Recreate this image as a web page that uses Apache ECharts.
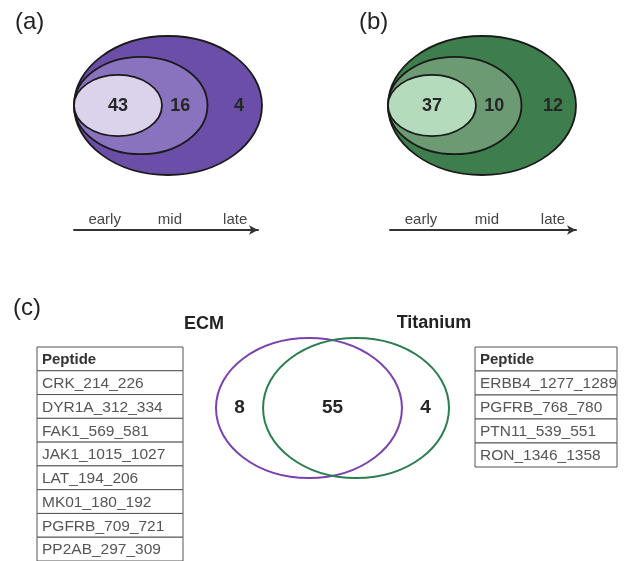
<!DOCTYPE html>
<html>
<head>
<meta charset="utf-8">
<script src="https://cdn.jsdelivr.net/npm/echarts@6/dist/echarts.min.js"></script>
<style>
  html, body { margin: 0; padding: 0; background: #fff; }
  #chart { width: 624px; height: 561px; }
</style>
</head>
<body>
<div id="chart"></div>
<script>
// Peptides first detected at each stage (nested sets: early ⊂ mid ⊂ late)
const stages = ['early', 'mid', 'late'];
const ecmStageCounts = [43, 16, 4];
const titaniumStageCounts = [37, 10, 12];

// Overlap between the two substrates: ECM only, both, Titanium only
const setNames = ['ECM', 'Titanium'];
const overlapCounts = [8, 55, 4];

const panelLabels = ['(a)', '(b)', '(c)'];
const tableHeader = 'Peptide';
const ecmOnlyPeptides = ['CRK_214_226', 'DYR1A_312_334', 'FAK1_569_581', 'JAK1_1015_1027',
  'LAT_194_206', 'MK01_180_192', 'PGFRB_709_721', 'PP2AB_297_309'];
const titaniumOnlyPeptides = ['ERBB4_1277_1289', 'PGFRB_768_780', 'PTN11_539_551', 'RON_1346_1358'];

// ---- styling / layout ----
const FONT = '"Liberation Sans", Arial, Helvetica, sans-serif';
const purpleFills = ['#dbd3ec', '#8a73be', '#6a4ea7'];
const greenFills = ['#b4dcbc', '#6b9a73', '#3e7e4c'];
const vennColors = ['#7b42ad', '#2c7d50'];
// nested ellipses share their left edge; sizes as fractions of the outer one
const ringWidth = [0.468, 0.71, 1.0];
const ringHeight = [0.44, 0.70, 1.0];
const ringLabelPos = [0.5, 0.4, 0.58];
// the two Venn ellipses as horizontal extents of the panel box
const vennExtents = [[0, 0.798], [0.202, 1]];
const ROW_H = 24;

function nestedRenderer(fills) {
  return function (params, api) {
    const i = api.value(0);
    const count = api.value(1);
    const w = ringWidth[i], h = ringHeight[i];
    const c = api.coord([w / 2, 0.5]);
    const s = api.size([w, h]);
    const prev = i > 0 ? ringWidth[i - 1] : 0;
    const lp = api.coord([prev + ringLabelPos[i] * (w - prev), 0.5]);
    return {
      type: 'group',
      children: [
        {
          type: 'ellipse',
          z2: 10 - 3 * i,
          shape: { cx: c[0], cy: c[1], rx: s[0] / 2, ry: s[1] / 2 },
          style: { fill: fills[i], stroke: '#1a1a1a', lineWidth: 1.8 }
        },
        {
          type: 'text',
          z2: 50,
          style: {
            x: lp[0], y: lp[1] + 1, text: String(count),
            fill: '#262626', font: 'bold 18px ' + FONT,
            align: 'center', verticalAlign: 'middle'
          }
        }
      ]
    };
  };
}

function vennRenderer(params, api) {
  const i = api.value(0);
  const ext = vennExtents[i];
  const c = api.coord([(ext[0] + ext[1]) / 2, 0.5]);
  const s = api.size([ext[1] - ext[0], 1]);
  return {
    type: 'ellipse',
    shape: { cx: c[0], cy: c[1], rx: s[0] / 2, ry: s[1] / 2 },
    style: { fill: 'none', stroke: vennColors[i], lineWidth: 2 }
  };
}

function regionRenderer(params, api) {
  const i = api.value(0);
  const bounds = [
    [vennExtents[0][0], vennExtents[1][0]],
    [vennExtents[1][0], vennExtents[0][1]],
    [vennExtents[0][1], vennExtents[1][1]]
  ][i];
  const p = api.coord([(bounds[0] + bounds[1]) / 2, 0.5]);
  return {
    type: 'text',
    style: {
      x: p[0], y: p[1], text: String(api.value(1)),
      fill: '#262626', font: 'bold 19px ' + FONT,
      align: 'center', verticalAlign: 'middle'
    }
  };
}

function tableRenderer(params, api) {
  const idx = api.value(1);
  const left = api.coord([0, idx]);
  const right = api.coord([1, idx]);
  const bandH = api.size([0, 1])[1];
  const isHeader = idx === 0;
  return {
    type: 'group',
    children: [
      {
        type: 'rect',
        shape: { x: left[0], y: left[1] - bandH / 2, width: right[0] - left[0], height: bandH },
        style: { fill: '#fff', stroke: '#555', lineWidth: 1 }
      },
      {
        type: 'text',
        style: {
          x: left[0] + 5, y: left[1] + 1, text: params.context.rows[idx],
          fill: isHeader ? '#333' : '#555',
          font: (isHeader ? 'bold 15px ' : '15.5px ') + FONT,
          align: 'left', verticalAlign: 'middle'
        }
      }
    ]
  };
}

const ecmRows = [tableHeader].concat(ecmOnlyPeptides);
const tiRows = [tableHeader].concat(titaniumOnlyPeptides);

function timelineAxis(gridIndex) {
  return {
    gridIndex, type: 'value', position: 'top', min: -0.47, max: 2.35,
    axisLine: {
      show: true, onZero: false, symbol: ['none', 'arrow'], symbolSize: [7, 9],
      lineStyle: { color: '#333', width: 2 }
    },
    axisTick: { show: false },
    splitLine: { show: false },
    axisLabel: {
      customValues: [0, 1, 2], formatter: v => stages[v] || '',
      fontSize: 15, color: '#444', fontFamily: FONT, margin: 3
    }
  };
}
function hiddenAxis(gridIndex, extra) {
  return Object.assign({ gridIndex, type: 'value', min: 0, max: 1, show: false }, extra || {});
}

const chart = echarts.init(document.getElementById('chart'), null, { renderer: 'canvas' });
chart.setOption({
  animation: false,
  backgroundColor: '#fff',
  grid: [
    { left: 74, top: 36, width: 188, height: 139 },              // (a) nested sets
    { left: 74, top: 230, width: 184, height: 10 },              // (a) timeline
    { left: 388, top: 36, width: 188, height: 139 },             // (b) nested sets
    { left: 390, top: 230, width: 186, height: 10 },             // (b) timeline
    { left: 216, top: 338, width: 233, height: 140 },            // (c) Venn
    { left: 37, top: 347, width: 146, height: ROW_H * ecmRows.length },
    { left: 475, top: 347, width: 142, height: ROW_H * tiRows.length }
  ],
  xAxis: [
    hiddenAxis(0), timelineAxis(1), hiddenAxis(2), timelineAxis(3),
    hiddenAxis(4), hiddenAxis(5), hiddenAxis(6)
  ],
  yAxis: [
    hiddenAxis(0), hiddenAxis(1), hiddenAxis(2), hiddenAxis(3), hiddenAxis(4),
    { gridIndex: 5, type: 'category', data: ecmRows, inverse: true, show: false },
    { gridIndex: 6, type: 'category', data: tiRows, inverse: true, show: false }
  ],
  graphic: [
    { type: 'text', left: 15, top: 10, style: { text: panelLabels[0], font: '24px ' + FONT, fill: '#222' } },
    { type: 'text', left: 359, top: 10, style: { text: panelLabels[1], font: '24px ' + FONT, fill: '#222' } },
    { type: 'text', left: 13, top: 296, style: { text: panelLabels[2], font: '24px ' + FONT, fill: '#222' } },
    { type: 'text', x: 204, y: 324, style: { text: setNames[0], font: 'bold 18px ' + FONT, fill: '#222', align: 'center', verticalAlign: 'middle' } },
    { type: 'text', x: 434, y: 323, style: { text: setNames[1], font: 'bold 18px ' + FONT, fill: '#222', align: 'center', verticalAlign: 'middle' } }
  ],
  series: [
    {
      type: 'custom', xAxisIndex: 0, yAxisIndex: 0,
      data: stages.map((s, i) => [i, ecmStageCounts[i]]),
      renderItem: nestedRenderer(purpleFills)
    },
    { type: 'line', xAxisIndex: 1, yAxisIndex: 1, data: [] },
    {
      type: 'custom', xAxisIndex: 2, yAxisIndex: 2,
      data: stages.map((s, i) => [i, titaniumStageCounts[i]]),
      renderItem: nestedRenderer(greenFills)
    },
    { type: 'line', xAxisIndex: 3, yAxisIndex: 3, data: [] },
    {
      type: 'custom', xAxisIndex: 4, yAxisIndex: 4,
      data: setNames.map((n, i) => [i]),
      renderItem: vennRenderer
    },
    {
      type: 'custom', xAxisIndex: 4, yAxisIndex: 4, z: 3,
      data: overlapCounts.map((v, i) => [i, v]),
      renderItem: regionRenderer
    },
    {
      type: 'custom', xAxisIndex: 5, yAxisIndex: 5, clip: false,
      data: ecmRows.map((r, i) => [0, i]),
      encode: { x: 0, y: 1 },
      renderItem: function (params, api) { params.context.rows = ecmRows; return tableRenderer(params, api); }
    },
    {
      type: 'custom', xAxisIndex: 6, yAxisIndex: 6, clip: false,
      data: tiRows.map((r, i) => [0, i]),
      encode: { x: 0, y: 1 },
      renderItem: function (params, api) { params.context.rows = tiRows; return tableRenderer(params, api); }
    }
  ]
});
</script>
</body>
</html>
